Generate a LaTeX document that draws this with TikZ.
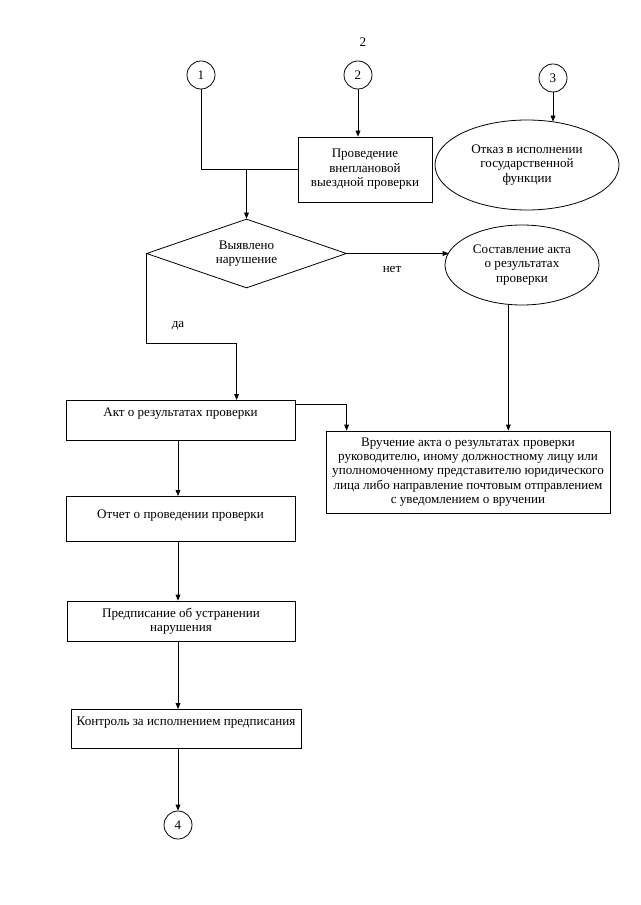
\documentclass[tikz,border=0pt]{standalone}
\usepackage{fontspec}
\setmainfont{Liberation Serif}
\usetikzlibrary{shapes.geometric,arrows.meta,calc}
\begin{document}
\begin{tikzpicture}[x=0.75pt,y=-0.75pt,
  font=\fontsize{9.8}{10.8}\selectfont,
  every node/.style={inner sep=0pt},
  line/.style={draw=black,line width=0.6pt},
  arr/.style={line,-{Triangle[length=4.5pt,width=3.6pt]}},
  box/.style={line,rectangle,align=center},
  topbox/.style={line,rectangle,anchor=north,inner xsep=0pt,inner ysep=0pt},
  conn/.style={line,circle,minimum size=21pt},
  oval/.style={line,ellipse,align=center},
  lbl/.style={}
]
\fill[white] (0,0) rectangle (640,905);
\useasboundingbox (0,0) rectangle (640,905);

\node[lbl] (pg) at (363,42) {2};

\node[conn] (c1) at (201,75) {1};
\node[conn] (c2) at (358,75) {2};
\node[conn] (c3) at (553,78) {3};

\node[box,minimum width=100.5pt,minimum height=48.75pt] (prov) at (365,169.5)
  {Проведение\\внеплановой\\выездной проверки};
\node[oval,minimum width=138pt,minimum height=67.5pt] (otkaz) at (527,165)
  {Отказ в исполнении\\государственной\\функции};

\node[line,diamond,shape aspect=3,align=center,minimum width=150pt,minimum height=51.75pt] (dia) at (246.5,253.5)
  {Выявлено\\нарушение};
\node[oval,minimum width=115.5pt,minimum height=60pt] (sost) at (522,265)
  {Составление акта\\о результатах\\проверки};

\node[topbox,minimum width=171.75pt,text height=12pt,text depth=18pt] (akt) at (180.5,400)
  {Акт о результатах проверки};
\node[box,minimum width=213pt,minimum height=61.5pt] (vruch) at (468,472)
  {Вручение акта о результатах проверки\\руководителю, иному должностному лицу или\\уполномоченному представителю юридического\\лица либо направление почтовым отправлением\\с уведомлением о вручении};

\node[topbox,minimum width=171.75pt,text height=16.5pt,text depth=17.25pt] (otchet) at (180.5,496)
  {Отчет о проведении проверки};
\node[box,minimum width=171pt,minimum height=30pt] (predp) at (181,621)
  {Предписание об устранении\\нарушения};
\node[topbox,minimum width=172.5pt,text height=12pt,text depth=17.25pt] (kontr) at (186,709)
  {Контроль за исполнением предписания};

\node[conn] (c4) at (178,825) {4};

\node[lbl] (net) at (392,269) {нет};
\node[lbl] (da) at (178,326) {да};

% connectors
\draw[line] (c1.south) |- (prov.west);
\draw[arr] (dia.north |- prov.west) -- (dia.north);
\draw[arr] (c2.south) -- (c2.south |- prov.north);
\draw[arr] (c3.south) -- (c3.south |- otkaz.58.8);
\draw[arr] (dia.east) -- (dia.east -| sost.170.7);
\coordinate (akin) at ([xshift=128.25pt]akt.north west);
\draw[arr] (dia.west) -- ++(0,90) -| (akin);
\coordinate (vin) at ([xshift=15.75pt]vruch.north west);
\draw[arr] ([yshift=-3pt]akt.north east) -| (vin);
\draw[arr] (sost.251.7) -- (sost.251.7 |- vruch.north);
\draw[arr] (akt.south -| c4) -- (otchet.north -| c4);
\draw[arr] (otchet.south -| c4) -- (predp.north -| c4);
\draw[arr] (predp.south -| c4) -- (kontr.north -| c4);
\draw[arr] (kontr.south -| c4) -- (c4.north);
\end{tikzpicture}
\end{document}
